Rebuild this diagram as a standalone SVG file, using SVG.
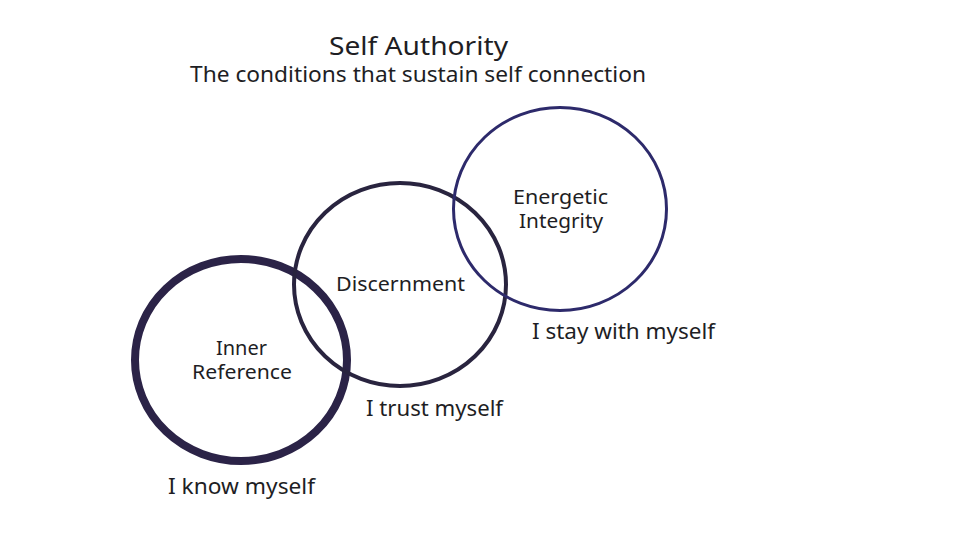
<svg xmlns="http://www.w3.org/2000/svg" width="960" height="540" viewBox="0 0 960 540">
<style>
text{font-family:"Noto Sans","Open Sans","Liberation Sans",sans-serif;fill:#1e1e24;text-anchor:middle}
.t{font-size:25px}
.s{font-size:21px}
.l{font-size:19px}
.c{font-size:21px}
.ring{fill:none}
</style>
<rect width="960" height="540" fill="#ffffff"/>
<g id="title">
<text class="t" x="418.5" y="55" textLength="179" lengthAdjust="spacingAndGlyphs">Self Authority</text>
<text class="s" x="418" y="82" textLength="456" lengthAdjust="spacingAndGlyphs">The conditions that sustain self connection</text>
</g>
<g id="connectors"></g>
<g id="inner-reference">
<ellipse class="ring" cx="241" cy="360" rx="106" ry="101" stroke="#2b2347" stroke-width="8"/>
<text class="l" x="241.5" y="355" textLength="51" lengthAdjust="spacingAndGlyphs">Inner</text>
<text class="l" x="242" y="379" textLength="100" lengthAdjust="spacingAndGlyphs">Reference</text>
<text class="c" x="241.5" y="494" textLength="147" lengthAdjust="spacingAndGlyphs">I know myself</text>
</g>
<g id="discernment">
<ellipse class="ring" cx="400" cy="284.5" rx="106" ry="101.5" stroke="#29243f" stroke-width="4"/>
<text class="l" x="400.5" y="291" textLength="129" lengthAdjust="spacingAndGlyphs">Discernment</text>
<text class="c" x="434.5" y="416" textLength="137" lengthAdjust="spacingAndGlyphs">I trust myself</text>
</g>
<g id="energetic-integrity">
<ellipse class="ring" cx="560" cy="209" rx="106.5" ry="101.5" stroke="#2d2a6b" stroke-width="3"/>
<text class="l" x="560.5" y="204" textLength="95" lengthAdjust="spacingAndGlyphs">Energetic</text>
<text class="l" x="561" y="228" textLength="84" lengthAdjust="spacingAndGlyphs">Integrity</text>
<text class="c" x="623.5" y="339" textLength="183" lengthAdjust="spacingAndGlyphs">I stay with myself</text>
</g>
</svg>
